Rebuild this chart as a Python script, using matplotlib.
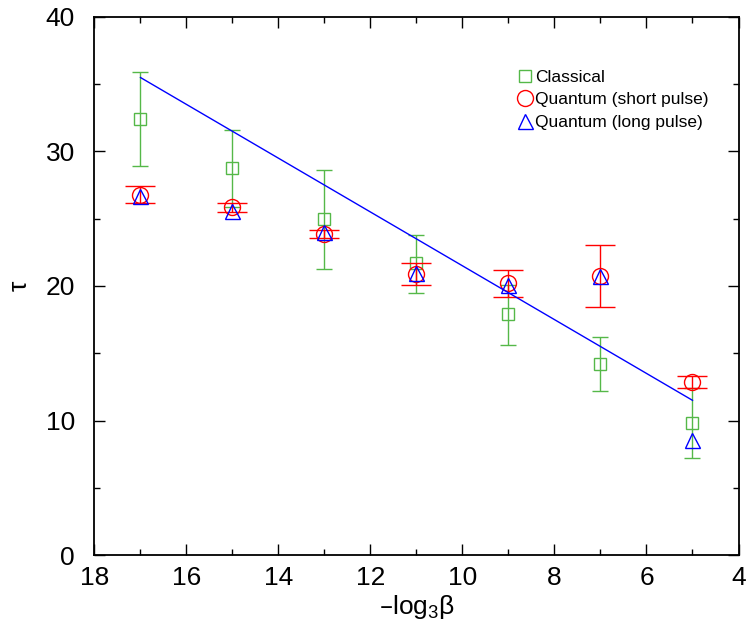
import numpy as np
import matplotlib.pyplot as plt
from matplotlib.lines import Line2D

plt.rcParams['font.family'] = ['Liberation Sans', 'DejaVu Sans']
plt.rcParams['mathtext.default'] = 'regular'

# data
x = [17, 15, 13, 11, 9, 7, 5]
classical = [32.4, 28.8, 24.95, 21.7, 17.9, 14.2, 9.8]
classical_lo = [28.9, 25.9, 21.3, 19.5, 15.6, 12.2, 7.2]
classical_hi = [35.9, 31.6, 28.6, 23.8, 20.1, 16.2, 12.4]
short = [26.8, 25.85, 23.9, 20.9, 20.2, 20.75, 12.85]
short_lo = [26.2, 25.5, 23.55, 20.1, 19.2, 18.45, 12.4]
short_hi = [27.4, 26.2, 24.2, 21.7, 21.2, 23.05, 13.3]
long_ = [26.7, 25.6, 24.05, 21.0, 20.1, 20.75, 8.55]
fit_x = [17, 5]
fit_y = [35.5, 11.5]
labels = ['Classical', 'Quantum (short pulse)', 'Quantum (long pulse)']

green = '#55b848'

fig = plt.figure(figsize=(7.48, 6.34), dpi=100)
ax = fig.add_axes([0.1263, 0.1246, 0.8610, 0.8486])

c = np.array(classical)
ax.errorbar(x, classical, yerr=[c - np.array(classical_lo), np.array(classical_hi) - c],
            fmt='s', ms=9, mfc='none', mec=green, mew=1, ecolor=green, elinewidth=1,
            capsize=5.7, capthick=1, zorder=2)
s = np.array(short)
ax.errorbar(x, short, yerr=[s - np.array(short_lo), np.array(short_hi) - s],
            fmt='o', ms=11.5, mfc='none', mec='red', mew=1, ecolor='red', elinewidth=1,
            capsize=11, capthick=1, zorder=3)
ax.plot(x, long_, '^', ms=10.8, mfc='none', mec='blue', mew=1, zorder=4)
ax.plot(fit_x, fit_y, color='blue', lw=1, zorder=5)

ax.set_xlim(18, 4)
ax.set_ylim(0, 40)
ax.set_xticks(np.arange(18, 3, -2))
ax.set_xticks(np.arange(17, 4, -2), minor=True)
ax.set_yticks(np.arange(0, 41, 10))
ax.set_yticks(np.arange(5, 40, 10), minor=True)
ax.tick_params(which='both', direction='in', top=True, right=True, labelsize=19, width=1)
ax.tick_params(which='major', length=8)
ax.tick_params(which='minor', length=4.5)
ax.tick_params(axis='y', pad=14)
ax.tick_params(axis='x', pad=8)
for sp in ax.spines.values():
    sp.set_linewidth(1.3)

ax.set_xlabel('–log$_3$β', fontsize=19, labelpad=2)
ax.set_ylabel('τ', fontsize=19, labelpad=10)

handles = [Line2D([], [], ls='none', marker='s', ms=9, mfc='none', mec=green, mew=1),
           Line2D([], [], ls='none', marker='o', ms=11.5, mfc='none', mec='red', mew=1),
           Line2D([], [], ls='none', marker='^', ms=10.8, mfc='none', mec='blue', mew=1)]
ax.legend(handles, labels, loc='upper left', bbox_to_anchor=(0.6875, 0.890),
          bbox_transform=fig.transFigure, frameon=False, fontsize=12.5, numpoints=1,
          handlelength=1.2, handletextpad=0.0, labelspacing=0.42, borderpad=0,
          borderaxespad=0)

fig.savefig('out.png', dpi=100)
